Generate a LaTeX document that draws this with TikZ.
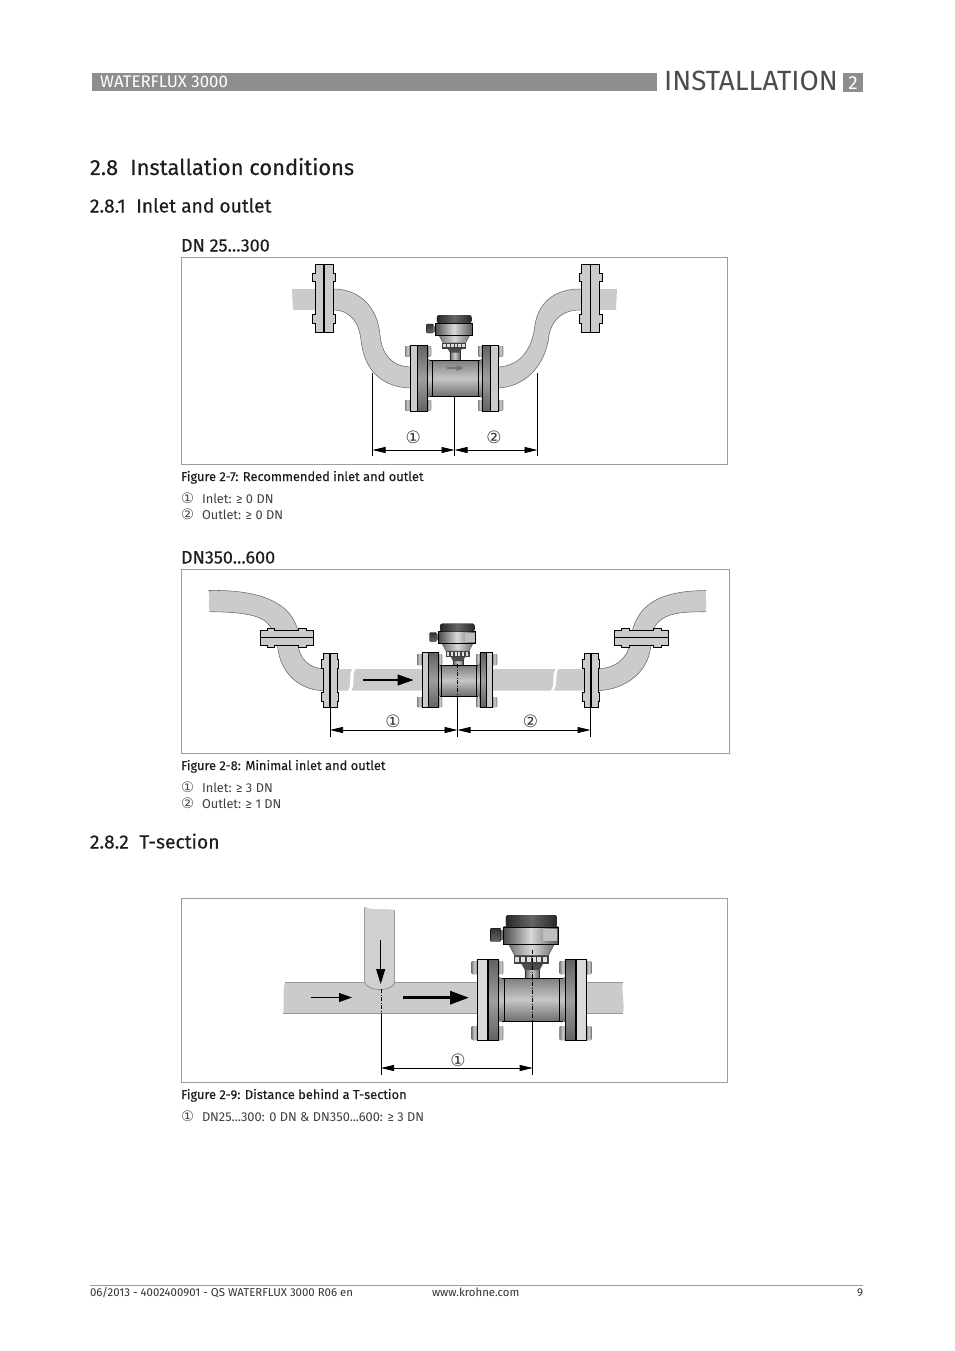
\documentclass[tikz,border=0pt]{standalone}
\usepackage{fontspec}
\setmainfont{Fira Sans}
\newfontfamily\medfont[FakeBold=0.18]{Fira Sans}
\newfontfamily\symfont{DejaVu Sans}
\usetikzlibrary{arrows.meta}
\definecolor{pipegray}{HTML}{CBCBCB}
\definecolor{edgegray}{HTML}{6A6A6A}
\definecolor{framegray}{HTML}{9C9C9C}
\definecolor{barg}{HTML}{8E8E8E}
\definecolor{inkk}{HTML}{1E1E1E}
\tikzset{
  x=1pt,y=-1pt,
  framebox/.style={draw=framegray,line width=0.9pt,fill=white},
  pipefill/.style={fill=pipegray,draw=none},
  pipeedge/.style={draw=edgegray,line width=0.55pt},
  dimline/.style={draw=black,line width=0.7pt,{Stealth[length=13pt,width=6pt,inset=0pt]}-{Stealth[length=13pt,width=6pt,inset=0pt]}},
  extline/.style={draw=black,line width=0.7pt},
  dashline/.style={draw=black,line width=0.6pt,dash pattern=on 4pt off 1.5pt on 1pt off 1.5pt},
  flowarrow/.style={draw=black,line width=1.3pt,-{Stealth[length=16pt,width=11pt,inset=0pt]}},
  txt/.style={anchor=base west,inner sep=0pt,outer sep=0pt,text=inkk},
  h1/.style={txt,font=\medfont\fontsize{21.9}{24}\selectfont},
  h2/.style={txt,font=\medfont\fontsize{19.2}{21}\selectfont},
  h3/.style={txt,font=\medfont\fontsize{18}{20}\selectfont},
  captxt/.style={txt,font=\medfont\fontsize{12.85}{14}\selectfont},
  itemtxt/.style={txt,font=\fontsize{12.8}{14}\selectfont,text=black!75},
  numtxt/.style={txt,font=\symfont\fontsize{14.5}{14}\selectfont,text=black!70},
  dimnum/.style={anchor=center,inner sep=0pt,text=black!80,font=\symfont\fontsize{17}{18}\selectfont},
  foottxt/.style={txt,font=\fontsize{11.4}{13}\selectfont,text=black!80},
  gm/.style={draw=black,line width=0.5pt},
  plate/.style={draw=black,line width=0.8pt},
  darkplate/.style={draw=black,line width=0.8pt,top color=black!62,bottom color=black!62,middle color=black!38},
}
% transmitter head: cx, top y, scale, panel opacity
\newcommand{\headunit}[4]{%
\begin{scope}[shift={(#1,#2)},scale=#3]
  \draw[left color=black!60,right color=black!60,middle color=black!20,draw=black!80,line width=0.4pt] (-4.5,33) rectangle (5.5,48);
  \fill[black!70] (-7,33) -- (8,33) -- (5.5,37.5) -- (-4.5,37.5) -- cycle;
  \fill[black!75] (-12,27.5) rectangle (12,33.5);
  \foreach \u in {-11,-7,-3,0.5,4,8}{\fill[black!12] (\u,28.8) rectangle ++(2.4,3.2);}
  \draw[left color=black!55,right color=black!55,middle color=black!15,draw=black!75,line width=0.35pt] (-15.5,20) -- (15.5,20) -- (11.5,27.5) -- (-11.5,27.5) -- cycle;
  \draw[top color=black!80,bottom color=black!60,draw=black,line width=0.35pt,rounded corners=0.8pt] (-27.8,9) rectangle (-21,18);
  \fill[black!55] (-21,10.5) rectangle (-19,16.8);
  \draw[left color=black!70,right color=black!65,middle color=black!15,draw=black,line width=0.45pt] (-19,8) rectangle (18,20);
  \fill[black!25,opacity=#4] (7.6,9.5) rectangle (17.6,18);
  \fill[left color=black!85,right color=black!85,middle color=black!60,rounded corners=2.6pt] (-17.5,8.2) -- (-17.5,0) -- (17.3,0) -- (17.3,8.2) -- cycle;
\end{scope}}
% bolt
\newcommand{\boltpc}[4]{\fill[rounded corners=1pt,left color=black!50,right color=black!50,middle color=black!20] (#1,#3) rectangle (#2,#4);}
% meter tube: x1 x2 y1 y2 flare collar
\newcommand{\tubeunit}[6]{%
 \fill[top color=black!55,bottom color=black!62,middle color=black!22]
   (#1,#3-#5) .. controls (#1+#5*0.3,#3) .. (#1+#5,#3) -- (#2-#5,#3) .. controls (#2-#5*0.3,#3) .. (#2,#3-#5) --
   (#2,#4+#5) .. controls (#2-#5*0.3,#4) .. (#2-#5,#4) -- (#1+#5,#4) .. controls (#1+#5*0.3,#4) .. (#1,#4+#5) -- cycle;
 \draw[gm] (#1+#5,#3) -- (#2-#5,#3) (#1+#5,#4) -- (#2-#5,#4);
 \draw[gm,line width=0.4pt] (#1+#6,#3) -- (#1+#6,#4) (#2-#6,#3) -- (#2-#6,#4);
}
% stepped pipe flange: cx cy rot L a b n w
\newcommand{\pipeflange}[8]{%
\begin{scope}[shift={(#1,#2)},rotate=#3]
 \draw[fill=pipegray,draw=black,line width=0.8pt]
  (-#7,-#4) -- (#7,-#4) -- (#7,-#5) -- (#8,-#5) -- (#8,-#6) -- (#7,-#6) -- (#7,#6) -- (#8,#6) -- (#8,#5) -- (#7,#5) -- (#7,#4) -- (-#7,#4)
  -- (-#7,#5) -- (-#8,#5) -- (-#8,#6) -- (-#7,#6) -- (-#7,-#6) -- (-#8,-#6) -- (-#8,-#5) -- (-#7,-#5) -- cycle;
 \draw[black,line width=1.5pt] (0,-#4) -- (0,#4);
\end{scope}}
\begin{document}
\begin{tikzpicture}
\useasboundingbox (0,0) rectangle (954,1351);
\fill[white] (0,0) rectangle (954,1351);
% ---- header
\fill[barg] (92,73) rectangle (657,91);
\node[anchor=base west,inner sep=0,text=white,font=\fontsize{16.8}{18}\selectfont] (hdr) at (100,88) {WATERFLUX 3000};
\node[anchor=base west,inner sep=0,text=black!70,font=\fontsize{27.8}{30}\selectfont] (inst) at (664,91) {INSTALLATION};
\fill[barg] (843,73) rectangle (863,92);
\node[anchor=center,inner sep=0,text=white,font=\fontsize{19}{20}\selectfont] (chap) at (853,83) {2};
\node[h1] (s28) at (90,175) {2.8\hspace{0.55em}Installation conditions};
\node[h2] (s281) at (90,212.5) {2.8.1\hspace{0.55em}Inlet and outlet};
\node[h3] (dn1) at (181,251.5) {DN 25...300};
% ---- figure 2-7
\draw[framebox] (181.5,257.6) rectangle (727.5,464.5);
\fill[pipefill] (292,289) -- (333,289) .. controls (362,289) and (378,310) .. (380,335) .. controls (382,355) and (392,367) .. (412,367) -- (412,388) .. controls (382,388) and (364,370) .. (361,340) .. controls (359,322) and (350,310) .. (333,310) -- (293,310) -- cycle;
\draw[pipeedge] (333,289) .. controls (362,289) and (378,310) .. (380,335) .. controls (382,355) and (392,367) .. (412,367);
\draw[pipeedge] (412,388) .. controls (382,388) and (364,370) .. (361,340) .. controls (359,322) and (350,310) .. (333,310);
\fill[pipefill] (617,289) -- (580,289) .. controls (552,289) and (538,305) .. (535,325) .. controls (532,352) and (518,367) .. (496,367) -- (496,388) .. controls (525,388) and (546,365) .. (549,335) .. controls (552,320) and (562,310) .. (580,310) -- (616,310) -- cycle;
\draw[pipeedge] (580,289) .. controls (552,289) and (538,305) .. (535,325) .. controls (532,352) and (518,367) .. (496,367);
\draw[pipeedge] (496,388) .. controls (525,388) and (546,365) .. (549,335) .. controls (552,320) and (562,310) .. (580,310);
\pipeflange{324}{298}{0}{34}{25}{16.5}{9}{11.5}
\pipeflange{590.5}{298}{0}{34}{25}{16.5}{9}{11.5}
\headunit{454.3}{315}{1}{0}
\boltpc{405}{410}{346}{356.7}\boltpc{405}{410}{400}{410.7}
\boltpc{427.5}{431}{346}{356.7}\boltpc{427.5}{431}{400}{410.7}
\boltpc{478}{482.3}{346}{356.7}\boltpc{478}{482.3}{400}{410.7}
\boltpc{498}{503}{346}{356.7}\boltpc{498}{503}{400}{410.7}
\tubeunit{427.5}{482.3}{360}{396.7}{2.5}{4.5}
\draw[fill=pipegray,plate] (410,345) rectangle (417.3,411.7);
\draw[darkplate] (417.3,345) rectangle (427.7,411.7);
\draw[darkplate] (482.3,345) rectangle (490,411.7);
\draw[fill=pipegray,plate] (490,345) rectangle (498.3,411.7);
\draw[draw=black!55,line width=1.4pt,-{Stealth[length=7pt,width=6pt,inset=0pt]}] (447,368) -- (463.5,368);
\coordinate (a1l) at (372.5,373); \coordinate (a1lb) at (372.5,456);
\coordinate (a1c) at (454.5,396); \coordinate (a1cb) at (454.5,456);
\coordinate (a1r) at (537.5,373); \coordinate (a1rb) at (537.5,456);
\coordinate (a1da) at (372.5,450); \coordinate (a1db) at (454.5,450); \coordinate (a1dc) at (537.5,450);
\draw[extline] (a1l) -- (a1lb);
\draw[extline] (a1c) -- (a1cb);
\draw[extline] (a1r) -- (a1rb);
\draw[dimline] (a1da) -- (a1db);
\draw[dimline] (a1db) -- (a1dc);
\node[dimnum] (a1n1) at (413.3,437.5) {①};
\node[dimnum] (a1n2) at (494,437.5) {②};
\node[captxt] (c27) at (181,481) {Figure 2-7: Recommended inlet and outlet};
\node[numtxt] (n271) at (181,503) {①};
\node[itemtxt] (t271) at (202,503) {Inlet: ≥ 0 DN};
\node[numtxt] (n272) at (181,519) {②};
\node[itemtxt] (t272) at (202,519) {Outlet: ≥ 0 DN};
\node[h3] (dn2) at (181,563.5) {DN350...600};
% ---- figure 2-8
\draw[framebox] (181.5,569.6) rectangle (729.5,753);
\fill[pipefill] (208.5,590.5) .. controls (235,590) and (290,592) .. (298,632) -- (273,632) .. controls (268,618) and (255,612) .. (209.5,611.7) .. controls (208,605) and (210,598) .. (208.5,590.5) -- cycle;
\draw[pipeedge] (208.5,590.5) .. controls (235,590) and (290,592) .. (298,632);
\draw[pipeedge] (209.5,611.7) .. controls (255,612) and (268,618) .. (273,632);
\fill[pipefill] (277.5,643) .. controls (278,668) and (295,690) .. (324,690.7) -- (324,669) .. controls (310,668) and (299,660) .. (298,643) -- cycle;
\draw[pipeedge] (277.5,643) .. controls (278,668) and (295,690) .. (324,690.7);
\draw[pipeedge] (298,643) .. controls (299,660) and (310,668) .. (324,669);
\fill[pipefill] (330,669) -- (352,669) .. controls (348,676) and (352,684) .. (348,690.7) -- (330,690.7) -- cycle;
\fill[pipefill] (355.5,669) -- (425,669) -- (425,690.7) -- (351.5,690.7) .. controls (355.5,684) and (351.5,676) .. (355.5,669) -- cycle;
\fill[pipefill] (490,669) -- (555.5,669) .. controls (551,676) and (556,684) .. (550.5,690.7) -- (490,690.7) -- cycle;
\fill[pipefill] (558.5,669) -- (590,669) -- (590,690.7) -- (553.5,690.7) .. controls (559,684) and (554,676) .. (558.5,669) -- cycle;
\fill[pipefill] (597,669) .. controls (615,668) and (627,660) .. (630,643) -- (651,643) .. controls (650,672) and (625,690) .. (597,690.7) -- cycle;
\draw[pipeedge] (597,669) .. controls (615,668) and (627,660) .. (630,643);
\draw[pipeedge] (597,690.7) .. controls (625,690) and (650,672) .. (651,643);
\fill[pipefill] (632,632) .. controls (640,598) and (670,591) .. (706,590.5) .. controls (705,598) and (707,605) .. (706,611.7) .. controls (680,612) and (660,612) .. (652,632) -- cycle;
\draw[pipeedge] (632,632) .. controls (640,598) and (670,591) .. (706,590.5);
\draw[pipeedge] (706,611.7) .. controls (680,612) and (660,612) .. (652,632);
\pipeflange{286.7}{637.5}{90}{26.7}{19.7}{12}{7.5}{9.5}
\pipeflange{641.5}{637.5}{90}{26.7}{19.7}{12}{7.5}{9.5}
\pipeflange{330}{680}{0}{27}{21}{12}{7}{8.5}
\pipeflange{591}{680}{0}{27}{21}{12}{7}{8.5}
\headunit{457.5}{623.5}{1}{1}
\boltpc{417}{422}{654}{665}\boltpc{417}{422}{697}{707}
\boltpc{438}{442}{654}{665}\boltpc{438}{442}{697}{707}
\boltpc{476}{480}{654}{665}\boltpc{476}{480}{697}{707}
\boltpc{492}{497}{654}{665}\boltpc{492}{497}{697}{707}
\tubeunit{438}{480}{665}{696}{2}{3.5}
\draw[fill=pipegray,plate] (422,652.7) rectangle (428,707.5);
\draw[darkplate] (428,652.7) rectangle (438,707.5);
\draw[darkplate] (480,652.7) rectangle (486,707.5);
\draw[fill=pipegray,plate] (486,652.7) rectangle (492,707.5);
\coordinate (a2fa) at (362.5,680); \coordinate (a2fb) at (413.5,680);
\draw[flowarrow] (a2fa) -- (a2fb);
\coordinate (a2cc) at (457.5,664); \coordinate (a2cd) at (457.5,697);
\draw[dashline] (a2cc) -- (a2cd);
\coordinate (a2l) at (330,707); \coordinate (a2lb) at (330,737);
\coordinate (a2cb) at (457.5,737);
\coordinate (a2r) at (590.5,707); \coordinate (a2rb) at (590.5,737);
\coordinate (a2da) at (330,730); \coordinate (a2db) at (457.5,730); \coordinate (a2dc) at (590.5,730);
\draw[extline] (a2l) -- (a2lb);
\draw[extline] (a2cd) -- (a2cb);
\draw[extline] (a2r) -- (a2rb);
\draw[dimline] (a2da) -- (a2db);
\draw[dimline] (a2db) -- (a2dc);
\node[dimnum] (a2n1) at (393,721.5) {①};
\node[dimnum] (a2n2) at (530.5,721.5) {②};
\node[captxt] (c28) at (181,770) {Figure 2-8: Minimal inlet and outlet};
\node[numtxt] (n281) at (181,792) {①};
\node[itemtxt] (t281) at (202,792) {Inlet: ≥ 3 DN};
\node[numtxt] (n282) at (181,808) {②};
\node[itemtxt] (t282) at (202,808) {Outlet: ≥ 1 DN};
\node[h2] (s282) at (90,848.5) {2.8.2\hspace{0.55em}T-section};
% ---- figure 2-9
\draw[framebox] (181.5,898.5) rectangle (727.5,1082.5);
\fill[pipefill] (285,982) -- (623,982) .. controls (621,992) and (625,1003) .. (623,1013.7) -- (283,1013.7) .. controls (285,1003) and (282,992) .. (285,982) -- cycle;
\draw[draw=black!40,line width=0.5pt] (285,982) -- (623,982) (283,1013.7) -- (623,1013.7);
\fill[pipegray!90!white] (364.7,907) .. controls (375,911) and (385,908) .. (394.7,910) -- (394.7,982) .. controls (394,992) and (366,992) .. (364.7,982) -- cycle;
\draw[draw=black!55,line width=0.5pt] (394.7,910) -- (394.7,982) .. controls (394,992) and (366,992) .. (364.7,982) -- (364.7,907);
\coordinate (a3da) at (380.7,940); \coordinate (a3db) at (380.7,984);
\draw[draw=black,line width=0.9pt,-{Stealth[length=15pt,width=9pt,inset=0pt]}] (a3da) -- (a3db);
\coordinate (a3ea) at (310.5,997.5); \coordinate (a3eb) at (352,997.5);
\draw[draw=black,line width=0.9pt,-{Stealth[length=13pt,width=9pt,inset=0pt]}] (a3ea) -- (a3eb);
\coordinate (a3ga) at (403,997.7); \coordinate (a3gb) at (469,997.7);
\draw[draw=black,line width=3pt,-{Stealth[length=19pt,width=13pt,inset=0pt]}] (a3ga) -- (a3gb);
\headunit{531.5}{915}{1.47}{1}
\boltpc{471.7}{477.3}{961}{974}\boltpc{471.7}{477.3}{1026}{1040}
\boltpc{498}{503}{961}{974}\boltpc{498}{503}{1026}{1040}
\boltpc{559.5}{566}{961}{974}\boltpc{559.5}{566}{1026}{1040}
\boltpc{586}{591.5}{961}{974}\boltpc{586}{591.5}{1026}{1040}
\tubeunit{498}{566}{978}{1021}{3.5}{6.5}
\draw[fill=black!15,plate] (477.3,959.5) rectangle (487.5,1040.7);
\draw[darkplate] (488.3,959.5) rectangle (498.3,1040.7);
\draw[darkplate] (565.7,959.5) rectangle (575.8,1040.7);
\draw[fill=black!15,plate] (576.7,959.5) rectangle (586,1040.7);
\coordinate (a3ca) at (381,989); \coordinate (a3cb) at (381,1013);
\coordinate (a3cc) at (381,1075);
\coordinate (a3ma) at (532.7,950); \coordinate (a3mb) at (532.7,1021);
\coordinate (a3mc) at (532.7,1075);
\coordinate (a3dl) at (381,1068); \coordinate (a3dr) at (532.7,1068);
\draw[dashline] (a3ca) -- (a3cb);
\draw[dashline] (a3ma) -- (a3mb);
\draw[extline] (a3cb) -- (a3cc);
\draw[extline] (a3mb) -- (a3mc);
\draw[dimline] (a3dl) -- (a3dr);
\node[dimnum] (a3n1) at (458,1060.5) {①};
\node[captxt] (c29) at (181,1099) {Figure 2-9: Distance behind a T-section};
\node[numtxt] (n291) at (181,1121) {①};
\node[itemtxt] (t291) at (202,1121) {DN25...300: 0 DN \& DN350...600: ≥ 3 DN};
% ---- footer
\draw[draw=framegray,line width=0.8pt] (90,1285) -- (863,1285);
\node[foottxt] (f1) at (90,1296) {06/2013 - 4002400901 - QS WATERFLUX 3000 R06 en};
\node[foottxt] (f2) at (432,1296) {www.krohne.com};
\node[foottxt,anchor=base east] (f3) at (863,1296) {9};
\end{tikzpicture}
\end{document}
